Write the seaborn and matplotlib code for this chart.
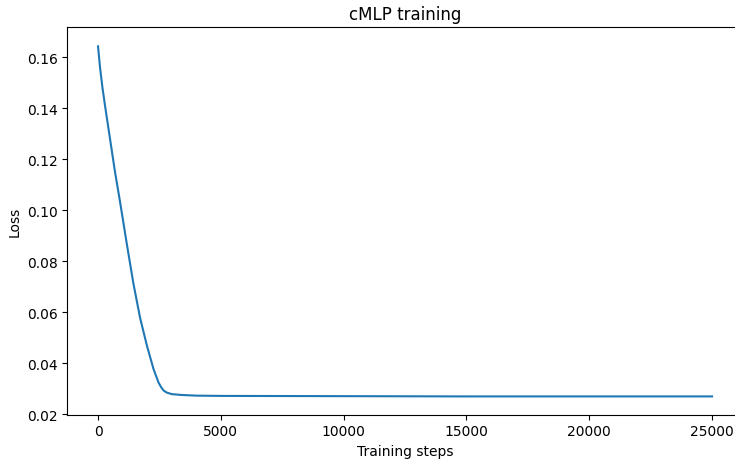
import matplotlib
matplotlib.use("Agg")
import matplotlib.pyplot as plt
import seaborn as sns
import pandas as pd

# values
steps = [0, 80, 180, 285, 390, 490, 590, 690, 900, 1170, 1440, 1710, 1990,
         2260, 2460, 2570, 2670, 2800, 3000, 3350, 4000, 5000, 10000,
         15000, 20000, 25000]
loss = [0.1642, 0.1560, 0.1480, 0.1409, 0.1342, 0.1278, 0.1214, 0.1150,
        0.1030, 0.0868, 0.0712, 0.0578, 0.0468, 0.0376, 0.0324, 0.0305,
        0.0292, 0.0284, 0.0278, 0.0275, 0.0272, 0.0271, 0.0270, 0.0269,
        0.0269, 0.0269]

df = pd.DataFrame({"Training steps": steps, "Loss": loss})

fig = plt.figure(figsize=(7.35, 4.6), dpi=100)
# axes run slightly past the right edge, as in the cropped original
ax = fig.add_axes([0.0916, 0.0967, 0.919, 0.8415])
sns.lineplot(data=df, x="Training steps", y="Loss", ax=ax, color="#1f77b4", linewidth=1.5)
ax.set_title("cMLP training")
ax.set_xlim(-1250, 26250)
ax.set_ylim(0.0198, 0.1716)

fig.savefig("out.png", dpi=100)
